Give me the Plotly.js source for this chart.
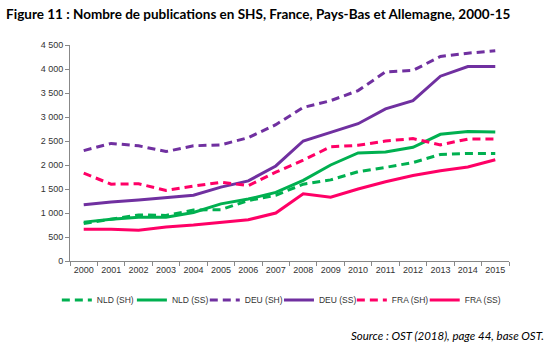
<!DOCTYPE html>
<html><head><meta charset="utf-8">
<script src="https://cdn.plot.ly/plotly-3.0.1.min.js"></script>
<style>html,body{margin:0;padding:0;background:#fff}#chart{width:556px;height:353px}</style>
</head><body><div id="chart"></div>
<script>
var years = ['2000','2001','2002','2003','2004','2005','2006','2007','2008','2009','2010','2011','2012','2013','2014','2015'];
var nldSH = [780, 870, 960, 950, 1060, 1070, 1260, 1370, 1600, 1690, 1860, 1950, 2050, 2220, 2240, 2240];
var nldSS = [810, 870, 910, 910, 1010, 1190, 1290, 1430, 1680, 2000, 2250, 2270, 2370, 2640, 2700, 2690];
var deuSH = [2300, 2450, 2400, 2280, 2400, 2420, 2570, 2840, 3200, 3340, 3550, 3940, 3970, 4260, 4330, 4380];
var deuSS = [1170, 1230, 1270, 1320, 1370, 1540, 1670, 1980, 2500, 2680, 2860, 3170, 3340, 3850, 4050, 4050];
var fraSH = [1830, 1600, 1610, 1470, 1560, 1640, 1570, 1850, 2100, 2380, 2410, 2500, 2550, 2420, 2540, 2540];
var fraSS = [660, 660, 640, 710, 750, 800, 860, 1000, 1400, 1330, 1500, 1650, 1780, 1880, 1960, 2110];
var seriesNames = ['NLD (SH)','NLD (SS)','DEU (SH)','DEU (SS)','FRA (SH)','FRA (SS)'];
var tickVals = [0,500,1000,1500,2000,2500,3000,3500,4000,4500];

var green = '#00b050', purple = '#7030a0', red = '#ff0066';
var dashPat = '8px,5px';
var legendIds = ['legend','legend2','legend3','legend4','legend5','legend6'];
var legendX = [-0.030, 0.141, 0.307, 0.476, 0.642, 0.808];
function tr(i, y, color, dashed) {
  return {type:'scatter', mode:'lines', name:seriesNames[i], x:years, y:y, legend:legendIds[i],
    line:{color:color, width:3, dash: dashed ? dashPat : 'solid'}};
}
var data = [
  tr(0, nldSH, green, true),
  tr(1, nldSS, green, false),
  tr(2, deuSH, purple, true),
  tr(3, deuSS, purple, false),
  tr(4, fraSH, red, true),
  tr(5, fraSS, red, false)
];
var tickFont = {family:'Liberation Sans, Arial, sans-serif', size:9, color:'#333'};
var legFont = {family:'Liberation Sans, Arial, sans-serif', size:8.5, color:'#333'};
var layout = {
  width:556, height:353,
  margin:{l:70, r:47, t:45, b:92},
  paper_bgcolor:'#fff', plot_bgcolor:'#fff',
  separators:', ',
  showlegend:true,
  title:{text:'Figure 11 : Nombre de publications en SHS, France, Pays-Bas et Allemagne, 2000-15',
    xref:'container', yref:'container', x:0.011, xanchor:'left', y:0.96, yanchor:'middle',
    font:{family:'Lato, Open Sans, sans-serif', size:13.5, color:'#000', weight:'bold'}},
  xaxis:{type:'category', range:[-0.5,15.5], showgrid:false, zeroline:false,
    showline:true, linecolor:'#888', linewidth:1, tickangle:0,
    ticks:'outside', tickson:'boundaries', ticklen:4, tickcolor:'#888',
    tickfont:tickFont, fixedrange:true},
  yaxis:{range:[0,4500], tickvals:tickVals, separatethousands:true, showgrid:false, zeroline:false,
    showline:true, linecolor:'#888', linewidth:1,
    ticks:'outside', ticklen:4, tickcolor:'#888', tickfont:tickFont, fixedrange:true},
  annotations:[{text:'<i>Source : OST (2018), page 44, base OST.</i>', xref:'paper', yref:'paper',
    x:1.084, xanchor:'right', y:-0.343, yanchor:'middle', showarrow:false,
    font:{family:'Lato, Open Sans, sans-serif', size:11.5, color:'#000'}}]
};
legendIds.forEach(function(id, i) {
  layout[id] = {orientation:'h', xref:'paper', yref:'paper', x:legendX[i], xanchor:'left',
    y:-0.18, yanchor:'middle', font:legFont, itemwidth:30, bgcolor:'rgba(0,0,0,0)'};
});
Plotly.newPlot('chart', data, layout, {staticPlot:true, displayModeBar:false});
</script></body></html>
